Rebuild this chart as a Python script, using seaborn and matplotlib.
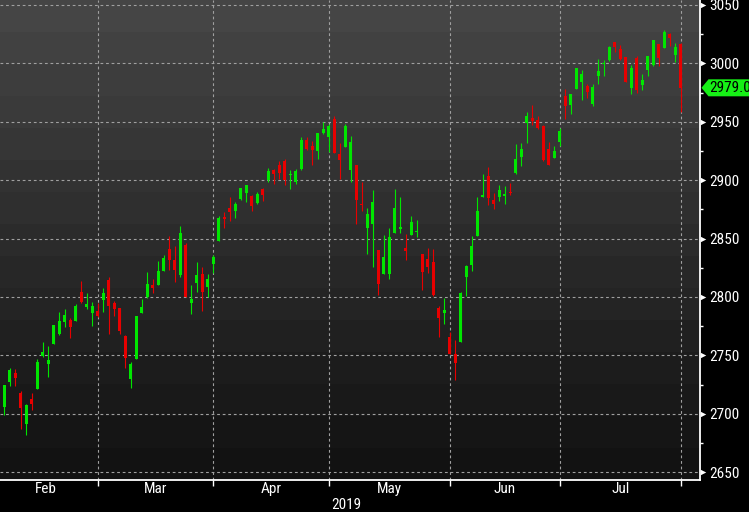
import numpy as np
import pandas as pd
import matplotlib
matplotlib.use("Agg")
import matplotlib.pyplot as plt
import seaborn as sns
from matplotlib import font_manager
from matplotlib.patches import Polygon

# ---------------- data (S&P 500 daily candles, 4 Feb - 31 Jul 2019) ----------------
open_ = [2706, 2727.5, 2734.6, 2717.5, 2691.2, 2712.4, 2721.5, 2749.4, 2742.6, 2759.7,
         2768.3, 2778.3, 2780.3, 2779.4, 2804.2, 2791.4, 2786.5, 2788, 2797.4, 2814.5,
         2794.6, 2790.5, 2766.8, 2730, 2747.1, 2786.5, 2799.7, 2810.2, 2810.5, 2822.5,
         2841.3, 2831.6, 2818.8, 2844.5, 2795.1, 2812.2, 2819.6, 2808.8, 2828, 2848.1,
         2868.7, 2876.4, 2873.6, 2883.8, 2888.7, 2886.7, 2880.4, 2892.4, 2900.1, 2908.9,
         2912.9, 2916.4, 2904.4, 2898.6, 2909.5, 2934.3, 2929.2, 2925.2, 2940.3, 2936.9,
         2952.6, 2922.4, 2928.6, 2908.9, 2912.9, 2879.6, 2859.3, 2862.7, 2840.2, 2819.9,
         2819.9, 2855, 2858.2, 2841.9, 2853.3, 2855.6, 2836.8, 2832.5, 2829.9, 2790.5,
         2786.5, 2765.7, 2751.2, 2761.7, 2817.3, 2827.6, 2852.4, 2885.8, 2903.5, 2883,
         2885.8, 2886.7, 2889.8, 2906.4, 2920, 2949.2, 2953.2, 2951.5, 2946.6, 2926.6,
         2919.2, 2932.9, 2972, 2964.3, 2978.3, 2984.2, 2980.8, 2965.4, 2989.1, 2999.4,
         3003.1, 3018.2, 3012.2, 3005.4, 2979.1, 3004.5, 2981.4, 2994.3, 2998.5, 3016.3,
         3013.1, 3025.1, 3007.4, 3016.3]
high = [2725, 2739.4, 2738.3, 2719.5, 2708, 2717.5, 2747.1, 2761.4, 2758, 2776,
        2787.1, 2789.7, 2782.2, 2794, 2813.6, 2803.4, 2795.7, 2794.5, 2807.7, 2816.8,
        2796.3, 2790.6, 2767.7, 2744.3, 2784, 2798.2, 2821.4, 2815.3, 2830.8, 2836,
        2852.2, 2843.6, 2860.7, 2846.2, 2810.2, 2829.9, 2825.6, 2819.6, 2836, 2869.3,
        2872.7, 2885.6, 2881.3, 2893.5, 2896, 2887.5, 2889.8, 2893.3, 2910.1, 2909.8,
        2916.4, 2917.8, 2908.7, 2909.5, 2936.9, 2936.7, 2933.2, 2940.3, 2949.8, 2948.3,
        2954.9, 2931.8, 2948, 2937.8, 2913, 2898.6, 2876.1, 2891.8, 2840.3, 2853.1,
        2859, 2892.4, 2885.6, 2853.9, 2869.3, 2865.9, 2837, 2841.9, 2841, 2792.2,
        2799.1, 2769.7, 2763.1, 2804.2, 2827.6, 2852.2, 2885.6, 2905.2, 2911.2, 2888.7,
        2895.8, 2895, 2897.5, 2931, 2931.8, 2958.3, 2964.3, 2954.9, 2947.2, 2932.6,
        2929, 2944.9, 2978, 2973.5, 2996, 2994, 2982, 2982, 3003.7, 3002.8,
        3014.8, 3018.3, 3015.4, 3005.5, 2998.3, 3006.2, 2990.8, 3006.2, 3020, 3016.4,
        3028.5, 3026.2, 3017.1, 3017.4]
low = [2699, 2723.8, 2723.8, 2687, 2681.8, 2703.2, 2721, 2748.3, 2731.7, 2759.5,
       2767.5, 2774.5, 2765.1, 2779, 2794.6, 2789.7, 2775.4, 2783, 2787.4, 2768,
       2783.4, 2768.5, 2739.4, 2722.3, 2747, 2786.3, 2799.5, 2803.6, 2810.3, 2822,
       2823.3, 2813, 2817.3, 2800, 2785.7, 2804.2, 2788.2, 2799.7, 2820.2, 2848,
       2859.3, 2865, 2867.6, 2883, 2881.3, 2873.6, 2879.6, 2882.1, 2898.4, 2896.9,
       2901, 2895.8, 2892.4, 2896.9, 2908.7, 2925.8, 2913.2, 2918.3, 2939.7, 2923.8,
       2923, 2901, 2928.5, 2898.6, 2862.7, 2873.6, 2837, 2825.9, 2801.7, 2819.4,
       2815.4, 2854.8, 2855, 2831.9, 2853.1, 2851.6, 2805.9, 2820.5, 2801.2, 2766,
       2777.1, 2750.8, 2729, 2761.5, 2800.8, 2822.5, 2852.2, 2885.5, 2878.7, 2875.5,
       2882.1, 2879.8, 2887.3, 2905.5, 2912.3, 2932, 2947.4, 2944, 2916.6, 2913,
       2918.6, 2929.5, 2952.6, 2956.6, 2978, 2968.8, 2970.6, 2963.7, 2982, 2989.4,
       3002.2, 3009.9, 3002.6, 2984.2, 2974, 2975, 2977.4, 2989.1, 2997.7, 2997.7,
       3013, 3014.6, 3001.4, 2958.1]
close = [2724.6, 2737.5, 2730.9, 2705.2, 2707.5, 2708.4, 2744.3, 2752.9, 2746, 2776,
         2779.4, 2784.5, 2774.5, 2792.2, 2795.4, 2794, 2792, 2784, 2803.1, 2792.5,
         2789.4, 2771.1, 2748, 2742.6, 2783.7, 2791.4, 2811, 2807.9, 2822.2, 2833.6,
         2831.9, 2823.3, 2854.7, 2800.3, 2798.2, 2818.8, 2804.5, 2815.4, 2834.2, 2867.6,
         2867, 2872.7, 2879.6, 2893.3, 2895.8, 2878.1, 2888.1, 2887.3, 2907.8, 2905.5,
         2906.1, 2900.4, 2905.5, 2907.8, 2934.3, 2926.6, 2926, 2940.3, 2943.8, 2946.3,
         2923.5, 2917.5, 2946.3, 2932.6, 2883.2, 2878.4, 2871, 2881.3, 2811.3, 2834.2,
         2851.3, 2876.1, 2859.9, 2839.6, 2864.2, 2856.5, 2821.6, 2825.9, 2801.9, 2782.2,
         2788.8, 2751.2, 2743.5, 2803.6, 2826.5, 2843.6, 2873.6, 2887.3, 2884.9, 2879.8,
         2891.5, 2887.5, 2889, 2918.1, 2926.4, 2954.9, 2950.4, 2944.9, 2917.2, 2913.2,
         2924.9, 2942, 2963.4, 2973.5, 2996, 2990.6, 2975.2, 2979.7, 2993.4, 3000.3,
         3014, 3014.2, 3003.9, 2984.4, 2996.2, 2976.9, 2985.7, 3006, 3019.9, 3004.3,
         3026.8, 3021.4, 3014, 2979.03]

month_labels = ["Feb", "Mar", "Apr", "May", "Jun", "Jul"]
month_end_idx = [17, 38, 59, 81, 101, 123]      # last trading day of each month
prev_month_end_idx = -2                         # 31 Jan (before first candle)
year_label = "2019"
y_ticks = [2650, 2700, 2750, 2800, 2850, 2900, 2950, 3000, 3050]
last_price = 2979.03
last_label = "2979.03"

# ---------------- style ----------------
sns.set_theme(style="dark")
names = {f.name for f in font_manager.fontManager.ttflist}
font = next((n for n in ["Liberation Sans Narrow", "Roboto Condensed", "DejaVu Sans"] if n in names),
            "DejaVu Sans")
plt.rcParams['font.family'] = [font, 'DejaVu Sans']

df = pd.DataFrame({"idx": np.arange(len(close)), "open": open_, "high": high,
                   "low": low, "close": close})
df["up"] = df["close"] >= df["open"]
GREEN, RED = "#00e600", "#e80000"
colors = np.where(df["up"], GREEN, RED)

W, H = 749, 512
fig = plt.figure(figsize=(W / 100, H / 100), dpi=100, facecolor="black")
ax = fig.add_axes([0, 32 / H, 700 / W, 480 / H])
ax.set_facecolor("none")

xmin, xmax = -0.78, 126.5
ymin, ymax = 2643.3, 3054.2

# banded vertical gradient background
levels = np.linspace(0x45, 0x12, 15) / 255.0
grad = np.dstack([levels[:, None]] * 3)
ax.imshow(grad, extent=[xmin, xmax, ymin, ymax], aspect="auto", origin="upper",
          interpolation="nearest", zorder=0)

# grid
for yv in y_ticks:
    ax.axhline(yv, color="#a0a0a0", lw=0.8, dashes=(2.5, 2.5), zorder=1)
for xv in month_end_idx:
    ax.axvline(xv, color="#a0a0a0", lw=0.8, dashes=(2.5, 2.5), zorder=1)

# candles
ax.vlines(df["idx"], df["low"], df["high"], colors=colors, lw=0.8, zorder=3)
body_bottom = np.minimum(df["open"], df["close"])
body_height = np.maximum((df["close"] - df["open"]).abs(), 1.0)
ax.bar(df["idx"], body_height, bottom=body_bottom, width=0.62, color=colors,
       linewidth=0, zorder=4)

ax.set_xlim(xmin, xmax)
ax.set_ylim(ymin, ymax)
ax.grid(False)

# spines
for s in ["top", "left"]:
    ax.spines[s].set_visible(False)
for s in ["right", "bottom"]:
    ax.spines[s].set_visible(True)
    ax.spines[s].set_color("white")
    ax.spines[s].set_linewidth(1.3)

# y axis on right
ax.yaxis.tick_right()
ax.set_yticks(y_ticks)
ax.set_yticks([v + 25 for v in y_ticks[:-1]], minor=True)
ax.tick_params(axis="y", which="major", right=True, left=False, length=0, pad=7,
               labelcolor="white", labelsize=11)
ax.tick_params(axis="y", which="minor", right=True, left=False, length=2.5,
               width=1, color="white", direction="out")
ax.scatter(np.full(len(y_ticks), 1.005), y_ticks, marker=">", s=16, color="white",
           transform=ax.get_yaxis_transform(), clip_on=False, zorder=6, linewidths=0)

# x axis: ticks at month ends, labels centred in months
ax.set_xticks(month_end_idx)
ax.set_xticklabels([])
ax.tick_params(axis="x", which="major", bottom=True, length=4, width=1,
               color="white", direction="out")
bounds = [prev_month_end_idx] + month_end_idx
tr = ax.get_xaxis_transform()
for i, lab in enumerate(month_labels):
    ax.text((bounds[i] + bounds[i + 1]) / 2, -9 / 480, lab, transform=tr, ha="center",
            va="center", color="white", fontsize=11, clip_on=False)
ax.text(62.1, -25 / 480, year_label, transform=tr, ha="center", va="center",
        color="white", fontsize=11, clip_on=False)

# current price tag
px, py = ax.transData.transform((xmax, last_price))
x0 = px + 1.5
hh = 8.5
pts = [(x0, py), (x0 + 7, py + hh), (W + 5, py + hh), (W + 5, py - hh), (x0 + 7, py - hh)]
pts = [(a / W, b / H) for a, b in pts]
fig.add_artist(Polygon(pts, closed=True, transform=fig.transFigure,
                       facecolor="#16f016", edgecolor="none", zorder=10))
fig.text((x0 + 8) / W, py / H, last_label, color="black", fontsize=11,
         ha="left", va="center", zorder=11)

fig.savefig("out.png", dpi=100, facecolor="black")
